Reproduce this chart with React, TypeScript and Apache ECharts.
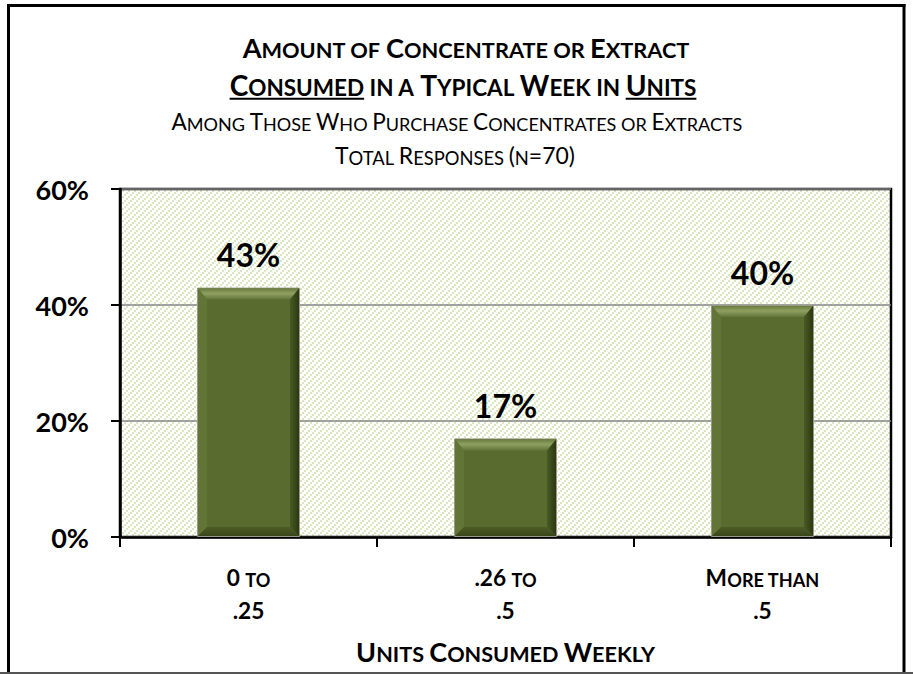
import React, { useEffect, useRef } from "react";
import * as echarts from "echarts";

const categories = ["0 to\n.25", ".26 to\n.5", "More than\n.5"];
const values = [43, 17, 40];
const yMin = 0;
const yMax = 60;
const yStep = 20;
const titleLine1 = "Amount of Concentrate or Extract";
const titleLine2 = "Consumed in a Typical Week in Units";
const underlinedWords = ["Consumed", "Units"];
const subtitleLine1 = "Among Those Who Purchase Concentrates or Extracts";
const subtitleLine2 = "Total Responses (n=70)";
const xAxisName = "Units Consumed Weekly";

const FONT = "Lato, 'DejaVu Sans', sans-serif";
const RATIO = 0.8;

type Seg = { k: "B" | "S" | "N"; t: string };

function toSegs(str: string): Seg[] {
  const out: Seg[] = [];
  let cur: "B" | "S" | null = null;
  let buf = "";
  const flush = () => {
    if (buf && cur) out.push({ k: cur, t: buf });
    buf = "";
  };
  for (const ch of str) {
    if (ch === "\n") {
      flush();
      out.push({ k: "N", t: "\n" });
      cur = null;
      continue;
    }
    let kind: "B" | "S";
    if (ch >= "a" && ch <= "z") kind = "S";
    else if (ch === " ") kind = cur ?? "B";
    else kind = "B";
    if (kind !== cur) flush();
    cur = kind;
    buf += kind === "S" ? ch.toUpperCase() : ch;
  }
  flush();
  return out;
}

function richStr(segs: Seg[], b = "B", s = "S"): string {
  return segs.map((g) => (g.k === "N" ? "\n" : `{${g.k === "B" ? b : s}|${g.t}}`)).join("");
}

let _ctx: CanvasRenderingContext2D | null = null;
function ctx2d() {
  if (!_ctx) _ctx = document.createElement("canvas").getContext("2d");
  return _ctx!;
}

function measure(segs: Seg[], big: number, small: number, weight: string): number {
  const c = ctx2d();
  let w = 0;
  for (const g of segs) {
    if (g.k === "N") continue;
    c.font = `${weight} ${g.k === "B" ? big : small}px ${FONT}`;
    w += c.measureText(g.t).width;
  }
  return w;
}

function fitBig(str: string, target: number, weight: string): number {
  const segs = toSegs(str);
  const w = measure(segs, 100, 100 * RATIO, weight);
  return (100 * target) / w;
}

function makePattern(): string {
  const size = 6;
  const cv = document.createElement("canvas");
  cv.width = size;
  cv.height = size;
  const c = cv.getContext("2d")!;
  c.fillStyle = "#ffffff";
  c.fillRect(0, 0, size, size);
  c.fillStyle = "#d9e6c0";
  for (let X = 0; X < 3; X++) {
    for (let Y = 0; Y < 3; Y++) {
      if ((X + Y) % 3 === 0) c.fillRect(X * 2, Y * 2, 2, 2);
    }
  }
  return cv.toDataURL("image/png");
}

function titleGraphic(
  str: string,
  cx: number,
  cy: number,
  target: number,
  weight: string,
  underline: string[] = []
): any[] {
  const big = fitBig(str, target, weight);
  const small = big * RATIO;
  const segs = toSegs(str);
  const total = measure(segs, big, small, weight);
  const left = cx - total / 2;
  const els: any[] = [
    {
      type: "text",
      x: left,
      y: cy,
      style: {
        text: richStr(segs),
        align: "left",
        verticalAlign: "middle",
        fill: "#000",
        rich: {
          B: { fontSize: big, fontWeight: weight, fontFamily: FONT, fill: "#000", verticalAlign: "bottom", lineHeight: big * 1.1 },
          S: { fontSize: small, fontWeight: weight, fontFamily: FONT, fill: "#000", verticalAlign: "bottom", lineHeight: big * 1.1 },
        },
      },
    },
  ];
  for (const word of underline) {
    const idx = str.indexOf(word);
    if (idx < 0) continue;
    const pre = measure(toSegs(str.slice(0, idx)), big, small, weight);
    const w = measure(toSegs(word), big, small, weight);
    const y = cy + big * 0.42 + 3;
    els.push({
      type: "line",
      shape: { x1: left + pre, y1: y, x2: left + pre + w, y2: y },
      style: { stroke: "#000", lineWidth: 2 },
    });
  }
  return els;
}

const BAR_W = 103;

export default function App() {
  const ref = useRef<HTMLDivElement>(null);
  useEffect(() => {
    if (!ref.current) return;
    const chart = echarts.init(ref.current, undefined, { renderer: "svg" });
    const pattern = makePattern();

    const catBig = fitBig("More than", 114, "bold");
    const catSmall = catBig * RATIO;
    const nameBig = fitBig(xAxisName, 299, "bold");
    const nameSmall = nameBig * RATIO;

    const graphics: any[] = [
      ...titleGraphic(titleLine1, 466, 46, 447, "bold"),
      ...titleGraphic(titleLine2, 463, 84, 467, "bold", underlinedWords),
      ...titleGraphic(subtitleLine1, 457, 121, 571, "normal"),
      ...titleGraphic(subtitleLine2, 455, 154, 240, "normal"),
      { type: "line", shape: { x1: 8.5, y1: 4, x2: 8.5, y2: 674 }, style: { stroke: "#000", lineWidth: 3 } },
      { type: "line", shape: { x1: 7, y1: 5.5, x2: 905.5, y2: 5.5 }, style: { stroke: "#000", lineWidth: 3 } },
      { type: "line", shape: { x1: 904, y1: 4, x2: 904, y2: 674 }, style: { stroke: "#000", lineWidth: 3 } },
      { type: "line", shape: { x1: 0, y1: 673, x2: 913, y2: 673 }, style: { stroke: "#555", lineWidth: 2 } },
    ];

    const option: any = {
      animation: false,
      backgroundColor: "#fff",
      grid: {
        left: 120,
        right: 22,
        top: 189,
        bottom: 137,
        show: true,
        borderColor: "#000",
        borderWidth: 2.5,
        backgroundColor: { image: pattern, repeat: "repeat", imageWidth: 6, imageHeight: 6 },
        containLabel: false,
        outerBoundsMode: "none",
      },
      xAxis: {
        type: "category",
        data: categories,
        axisLine: { show: true, lineStyle: { color: "#000", width: 2.5 } },
        axisTick: { show: true, length: 10, lineStyle: { color: "#000", width: 2 } },
        axisLabel: {
          margin: 19,
          interval: 0,
          formatter: (v: string) => richStr(toSegs(v)),
          rich: {
            B: { fontSize: catBig, fontWeight: "bold", fontFamily: FONT, color: "#000", lineHeight: 33, verticalAlign: "bottom" },
            S: { fontSize: catSmall, fontWeight: "bold", fontFamily: FONT, color: "#000", lineHeight: 33, verticalAlign: "bottom" },
          },
        },
        name: richStr(toSegs(xAxisName)),
        nameLocation: "middle",
        nameGap: 100,
        nameTextStyle: {
          rich: {
            B: { fontSize: nameBig, fontWeight: "bold", fontFamily: FONT, color: "#000", lineHeight: 28, verticalAlign: "bottom" },
            S: { fontSize: nameSmall, fontWeight: "bold", fontFamily: FONT, color: "#000", lineHeight: 28, verticalAlign: "bottom" },
          },
        },
      },
      yAxis: {
        type: "value",
        min: yMin,
        max: yMax,
        interval: yStep,
        axisLine: { show: true, lineStyle: { color: "#000", width: 2.5 } },
        axisTick: { show: true, length: 9, lineStyle: { color: "#000", width: 2 } },
        splitLine: { show: true, lineStyle: { color: "#868686", width: 1.5 } },
        axisLabel: {
          margin: 31,
          formatter: "{value}%",
          fontSize: 27,
          fontWeight: "bold",
          fontFamily: FONT,
          color: "#000",
        },
      },
      series: [
        {
          type: "bar",
          data: values,
          barWidth: BAR_W,
          itemStyle: { color: "#5a6b2f", borderColor: "#9a9a8a", borderWidth: 1 },
          label: {
            show: true,
            position: "top",
            distance: 17,
            formatter: "{c}%",
            fontSize: 32,
            lineHeight: 32,
            fontWeight: "bold",
            fontFamily: FONT,
            color: "#000",
          },
          z: 2,
        },
        {
          type: "custom",
          data: values.map((v, i) => [i, v]),
          z: 3,
          silent: true,
          renderItem: (params: any, api: any) => {
            const i = api.value(0);
            const v = api.value(1);
            const top = api.coord([i, v]);
            const base = api.coord([i, 0]);
            const x0 = top[0] - BAR_W / 2 + 1;
            const x1 = top[0] + BAR_W / 2 - 1;
            const y0 = top[1] + 1;
            const y1 = base[1] - 1;
            const b = 11;
            const s = 9;
            return {
              type: "group",
              children: [
                {
                  type: "polygon",
                  shape: { points: [[x0, y0], [x1, y0], [x1 - s, y0 + b], [x0 + s, y0 + b]] },
                  style: {
                    fill: new echarts.graphic.LinearGradient(0, 0, 0, 1, [
                      { offset: 0, color: "#6b7d3c" },
                      { offset: 0.45, color: "#8fa060" },
                      { offset: 1, color: "#62743a" },
                    ]),
                  },
                },
                {
                  type: "polygon",
                  shape: { points: [[x0, y0], [x0 + s, y0 + b], [x0 + s, y1 - s], [x0, y1]] },
                  style: { fill: "#627537" },
                },
                {
                  type: "polygon",
                  shape: { points: [[x1, y0], [x1, y1], [x1 - s, y1 - s], [x1 - s, y0 + b]] },
                  style: {
                    fill: new echarts.graphic.LinearGradient(0, 0, 1, 0, [
                      { offset: 0, color: "#4a5a24" },
                      { offset: 1, color: "#2c3812" },
                    ]),
                  },
                },
                {
                  type: "polygon",
                  shape: { points: [[x0, y1], [x0 + s, y1 - s], [x1 - s, y1 - s], [x1, y1]] },
                  style: {
                    fill: new echarts.graphic.LinearGradient(0, 0, 0, 1, [
                      { offset: 0, color: "#4d5c26" },
                      { offset: 1, color: "#3a4619" },
                    ]),
                  },
                },
              ],
            };
          },
        },
      ],
      graphic: graphics,
    };
    chart.setOption(option);
    return () => chart.dispose();
  }, []);
  return (
    <div
      ref={ref}
      style={{ position: "absolute", left: 0, top: 0, width: 913, height: 674 }}
    />
  );
}
